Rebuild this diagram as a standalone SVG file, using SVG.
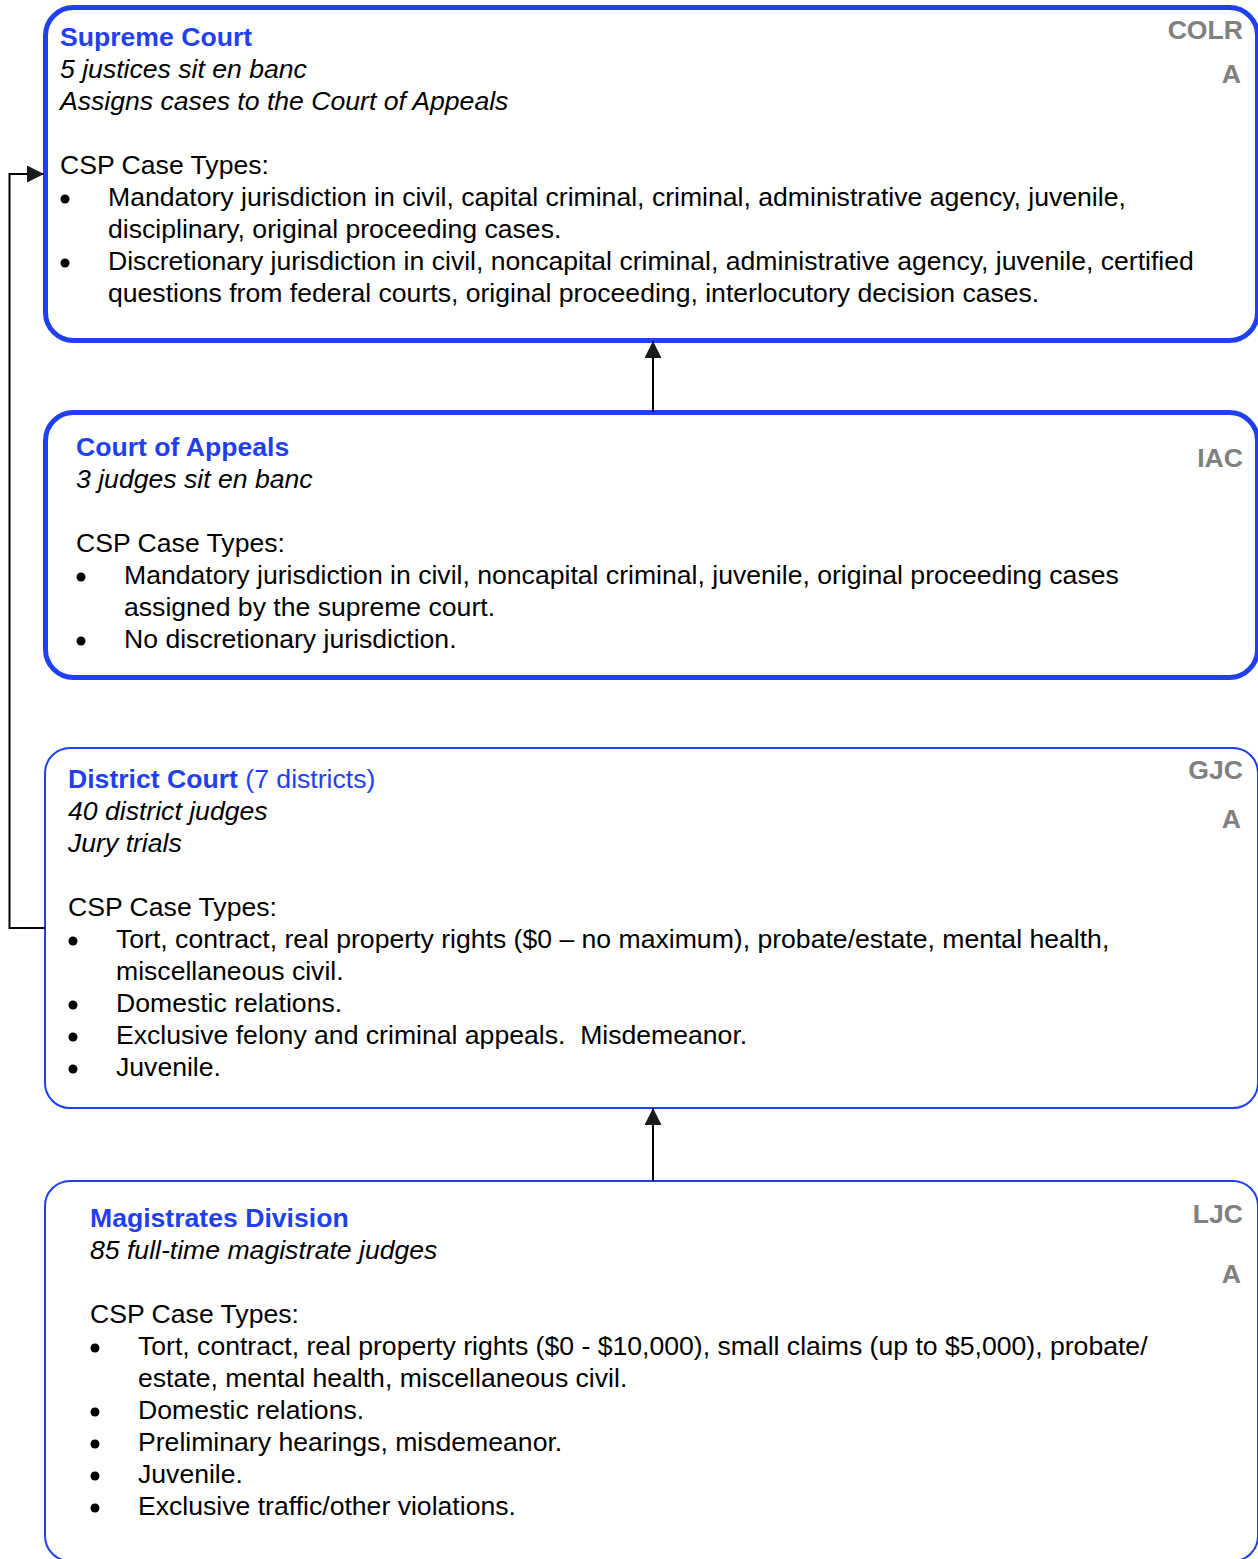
<svg xmlns="http://www.w3.org/2000/svg" width="1258" height="1559" viewBox="0 0 1258 1559">
<style>
text{font-family:"Liberation Sans",Arial,sans-serif;font-size:26.6px;fill:#000}
.t{font-weight:bold;fill:#1f3ff0}
.tn{fill:#1f3ff0}
.i{font-style:italic}
.lv{font-weight:bold;fill:#808080;text-anchor:end}
.box{fill:#fff;stroke:#1f3ff0}
.thick{stroke-width:5}
.thin{stroke-width:2}
.conn{fill:none;stroke:#000;stroke-width:2}
.dot{fill:#000}
</style>
<defs>
<marker id="ah2" viewBox="0 0 10 10" refX="10" refY="5" markerWidth="17" markerHeight="17" orient="auto" markerUnits="userSpaceOnUse">
<path d="M0,0 L10,5 L0,10 z" fill="#1a1a1a"/>
</marker>
</defs>

<g id="supreme">
<rect class="box thick" x="45.5" y="7.5" width="1212" height="333" rx="28"/>
<text class="t" x="60" y="46">Supreme Court</text>
<text class="i" x="60" y="78">5 justices sit en banc</text>
<text class="i" x="60" y="110">Assigns cases to the Court of Appeals</text>
<text x="60" y="174">CSP Case Types:</text>
<circle class="dot" cx="65" cy="199" r="4.5"/>
<text x="108" y="206">Mandatory jurisdiction in civil, capital criminal, criminal, administrative agency, juvenile,</text>
<text x="108" y="238">disciplinary, original proceeding cases.</text>
<circle class="dot" cx="65" cy="263" r="4.5"/>
<text x="108" y="270">Discretionary jurisdiction in civil, noncapital criminal, administrative agency, juvenile, certified</text>
<text x="108" y="302">questions from federal courts, original proceeding, interlocutory decision cases.</text>
<text class="lv" x="1243" y="39">COLR</text>
<text class="lv" x="1241" y="83">A</text>
</g>

<g id="appeals">
<rect class="box thick" x="45.5" y="412.5" width="1212" height="265" rx="28"/>
<text class="t" x="76" y="456">Court of Appeals</text>
<text class="i" x="76" y="488">3 judges sit en banc</text>
<text x="76" y="552">CSP Case Types:</text>
<circle class="dot" cx="81" cy="577" r="4.5"/>
<text x="124" y="584">Mandatory jurisdiction in civil, noncapital criminal, juvenile, original proceeding cases</text>
<text x="124" y="616">assigned by the supreme court.</text>
<circle class="dot" cx="81" cy="641" r="4.5"/>
<text x="124" y="648">No discretionary jurisdiction.</text>
<text class="lv" x="1243" y="467">IAC</text>
</g>

<g id="district">
<rect class="box thin" x="45" y="748" width="1213" height="360" rx="25"/>
<text x="68" y="788"><tspan class="t">District Court</tspan><tspan class="tn"> (7 districts)</tspan></text>
<text class="i" x="68" y="820">40 district judges</text>
<text class="i" x="68" y="852">Jury trials</text>
<text x="68" y="916">CSP Case Types:</text>
<circle class="dot" cx="73" cy="941" r="4.5"/>
<text x="116" y="948">Tort, contract, real property rights ($0 – no maximum), probate/estate, mental health,</text>
<text x="116" y="980">miscellaneous civil.</text>
<circle class="dot" cx="73" cy="1005" r="4.5"/>
<text x="116" y="1012">Domestic relations.</text>
<circle class="dot" cx="73" cy="1037" r="4.5"/>
<text x="116" y="1044" xml:space="preserve">Exclusive felony and criminal appeals.  Misdemeanor.</text>
<circle class="dot" cx="73" cy="1069" r="4.5"/>
<text x="116" y="1076">Juvenile.</text>
<text class="lv" x="1243" y="779">GJC</text>
<text class="lv" x="1241" y="828">A</text>
</g>

<g id="magistrates">
<rect class="box thin" x="45" y="1181" width="1213" height="380" rx="25"/>
<text class="t" x="90" y="1227">Magistrates Division</text>
<text class="i" x="90" y="1259">85 full-time magistrate judges</text>
<text x="90" y="1323">CSP Case Types:</text>
<circle class="dot" cx="95" cy="1348" r="4.5"/>
<text x="138" y="1355">Tort, contract, real property rights ($0 - $10,000), small claims (up to $5,000), probate/</text>
<text x="138" y="1387">estate, mental health, miscellaneous civil.</text>
<circle class="dot" cx="95" cy="1412" r="4.5"/>
<text x="138" y="1419">Domestic relations.</text>
<circle class="dot" cx="95" cy="1444" r="4.5"/>
<text x="138" y="1451">Preliminary hearings, misdemeanor.</text>
<circle class="dot" cx="95" cy="1476" r="4.5"/>
<text x="138" y="1483">Juvenile.</text>
<circle class="dot" cx="95" cy="1508" r="4.5"/>
<text x="138" y="1515">Exclusive traffic/other violations.</text>
<text class="lv" x="1243" y="1223">LJC</text>
<text class="lv" x="1241" y="1283">A</text>
</g>

<g id="connectors">
<path class="conn" d="M653,412 L653,341" marker-end="url(#ah2)"/>
<path class="conn" d="M653,1181 L653,1108" marker-end="url(#ah2)"/>
<path class="conn" d="M45,928 L9.5,928 L9.5,174 L44,174" marker-end="url(#ah2)"/>
</g>
</svg>
